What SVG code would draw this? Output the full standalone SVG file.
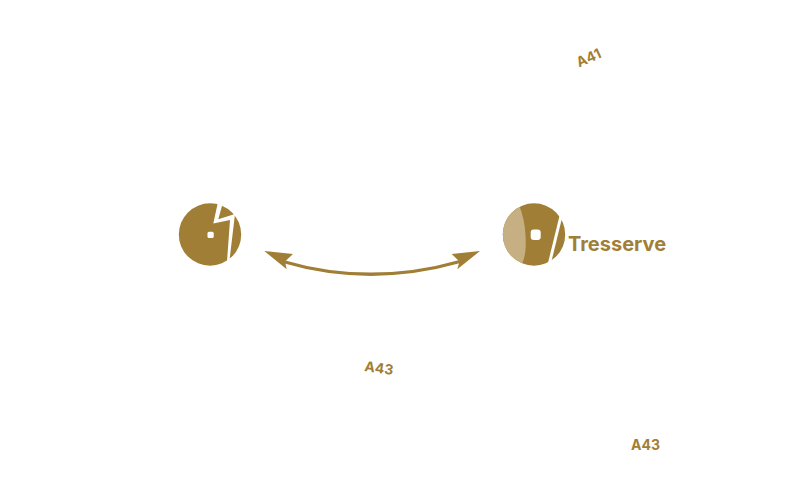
<svg xmlns="http://www.w3.org/2000/svg" width="800" height="491" viewBox="0 0 800 491">
  <defs>
    <style>
      .gold { fill: #a17e35; }
      .light { fill: #c6b083; }
      .cut { fill: none; stroke: #fff; }
      .hole { fill: #fff; }
      .lbl { fill: #a17e35; font-family: "Inter", "Liberation Sans", sans-serif; font-weight: 700; }
    </style>
    <clipPath id="rc"><circle cx="534" cy="234.5" r="31.2"/></clipPath>
  </defs>
  <g id="node-left">
    <circle class="gold" cx="210" cy="234.500" r="31.200"/>
    <path class="hole" d="M218 202L222.500 204L218.300 219.300L235 214L229.300 262L227 261.500L230 220L213.300 223.500Z"/>
    <rect class="hole" x="207.500" y="231.700" width="6.200" height="6.200" rx="1.500"/>
  </g>
  <g id="node-right">
    <circle class="gold" cx="534" cy="234.500" r="31.200"/>
    <path class="light" clip-path="url(#rc)" d="M519 205C523 215 525 225 525.500 235C526 245 526 255 522 264L500 270L498 200Z"/>
    <path class="cut" stroke-width="3" d="M561 216L549.500 263"/>
    <rect class="hole" x="530.700" y="229.500" width="10" height="10.500" rx="3"/>
    <text class="lbl" x="568" y="251" font-size="20" font-weight="800">Tresserve</text>
  </g>
  <g id="connectors">
    <path d="M283 261.500Q370 287 460 261.500" fill="none" stroke="#a17e35" stroke-width="3.300"/>
    <path class="gold" d="M264.300 251L293 254L285 261.500L286.700 269.300Z"/>
    <path class="gold" d="M480 251L451.700 254L459.500 261.500L457.300 269.300Z"/>
  </g>
  <g id="label-a41"><text class="lbl" font-size="14" transform="translate(579 67.500) rotate(-24)">A41</text></g>
  <g id="label-a43-1"><text class="lbl" font-size="14" transform="translate(364 371) rotate(8)">A43</text></g>
  <g id="label-a43-2"><text class="lbl" font-size="14" x="631" y="450">A43</text></g>
</svg>
